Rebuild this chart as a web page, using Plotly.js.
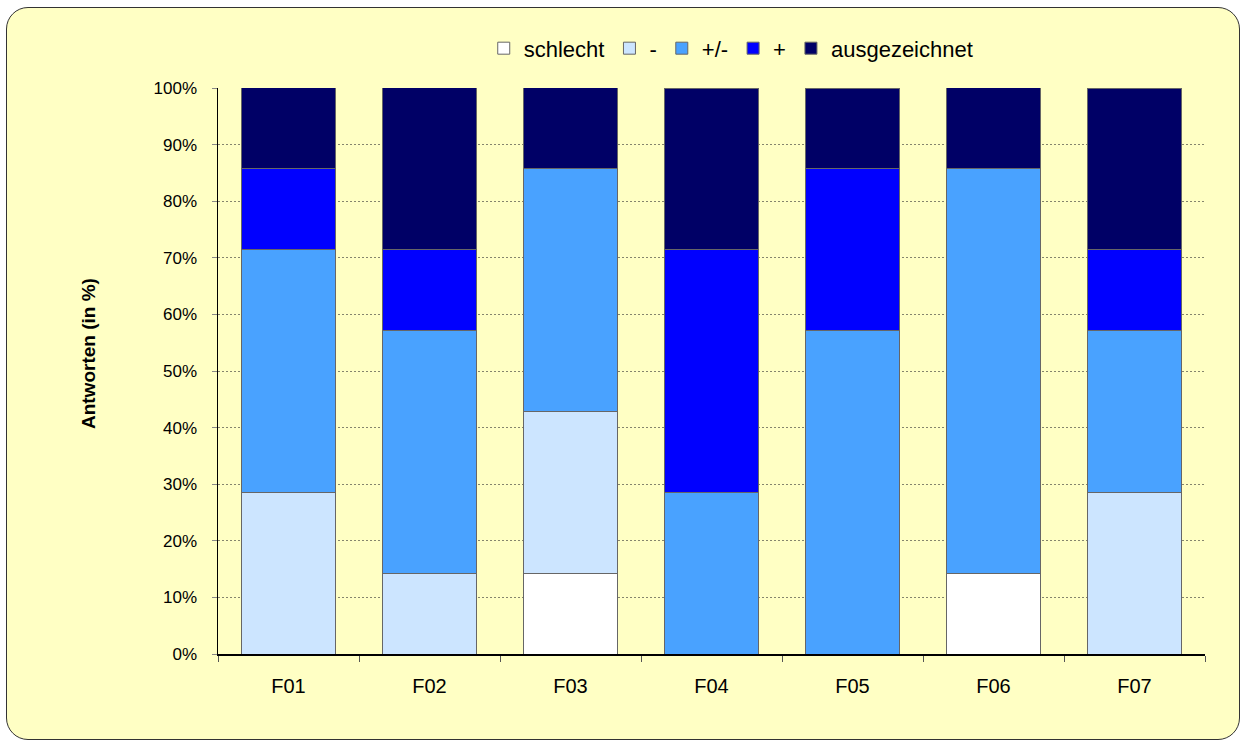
<!DOCTYPE html>
<html>
<head>
<meta charset="utf-8">
<script src="https://cdn.plot.ly/plotly-3.0.1.min.js"></script>
<style>
html, body { margin:0; padding:0; background:#ffffff; }
#frame { position:absolute; left:6px; top:7px; width:1232px; height:731px; border:1px solid #333; border-radius:22px; background:#FFFFC4; }
#chart { position:absolute; left:0; top:0; width:1243px; height:742px; }
</style>
</head>
<body>
<div id="frame"></div>
<div id="chart"></div>
<script>
const categories = ["F01","F02","F03","F04","F05","F06","F07"];
const seriesNames = ["schlecht","-","+/-","+","ausgezeichnet"];
const schlecht      = [0, 0, 14.29, 0, 0, 14.29, 0];
const minus         = [28.57, 14.29, 28.57, 0, 0, 0, 28.57];
const neutral       = [42.86, 42.86, 42.86, 28.57, 57.14, 71.43, 28.57];
const plus          = [14.29, 14.29, 0, 42.86, 28.57, 0, 14.29];
const ausgezeichnet = [14.29, 28.57, 14.29, 28.57, 14.29, 14.29, 28.57];
const seriesValues = [schlecht, minus, neutral, plus, ausgezeichnet];
const colors = ["#FFFFFF", "#CCE5FF", "#49A2FF", "#0000FF", "#000066"];
const yTitle = "Antworten (in %)";

const traces = seriesValues.map((vals, i) => ({
  type: "bar",
  name: seriesNames[i],
  x: categories,
  y: vals,
  marker: { color: colors[i], line: { color: "#666666", width: 1 } },
  hoverinfo: "none"
}));

const regular = "Liberation Sans, Arial, sans-serif";

const layout = {
  width: 1243, height: 742,
  barmode: "stack",
  bargap: 0.34,
  paper_bgcolor: "rgba(0,0,0,0)",
  plot_bgcolor: "rgba(0,0,0,0)",
  margin: { l: 218, r: 38, t: 88, b: 88 },
  font: { family: regular, size: 16, color: "#000" },
  showlegend: true,
  legend: {
    orientation: "h",
    x: 0.52, xanchor: "center",
    y: 1.07, yanchor: "middle",
    font: { family: regular, size: 22, color: "#000" },
    bgcolor: "rgba(0,0,0,0)",
    traceorder: "normal",
    itemwidth: 30
  },
  xaxis: {
    type: "category",
    showline: true, linecolor: "#000", linewidth: 1.5,
    ticks: "outside", ticklen: 6, tickcolor: "#555",
    tickson: "boundaries",
    ticklabelstandoff: 13,
    showgrid: false,
    tickfont: { family: regular, size: 20, color: "#000" },
    fixedrange: true
  },
  yaxis: {
    range: [0, 100],
    dtick: 10,
    ticksuffix: "%",
    showline: true, linecolor: "#000", linewidth: 1.5,
    ticks: "outside", ticklen: 5, tickcolor: "#888",
    ticklabelstandoff: 11,
    showgrid: true, gridcolor: "#333", gridwidth: 0.6, griddash: "2px,2px",
    zeroline: false,
    tickfont: { family: regular, size: 17, color: "#000" },
    automargin: false,
    fixedrange: true
  },
  annotations: [{
    text: "<b>" + yTitle + "</b>",
    xref: "paper", yref: "paper",
    x: -0.1317, y: 0.53,
    xanchor: "center", yanchor: "middle",
    textangle: -90,
    showarrow: false,
    font: { family: regular, size: 19, color: "#000" }
  }]
};

Plotly.newPlot("chart", traces, layout, { displayModeBar: false, staticPlot: true });
</script>
</body>
</html>
